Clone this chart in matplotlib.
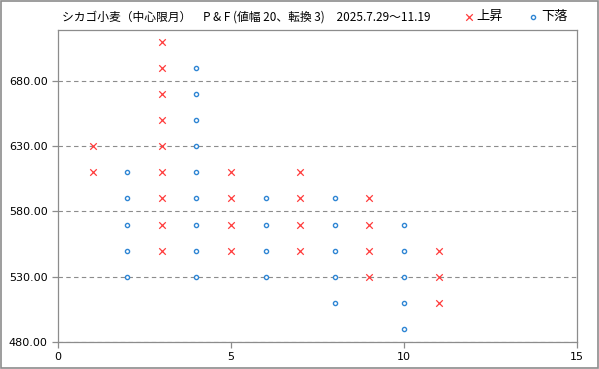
import matplotlib
matplotlib.use("Agg")
import matplotlib.pyplot as plt
from matplotlib.patches import Rectangle
from matplotlib.ticker import FormatStrFormatter

plt.rcParams['font.family'] = ['Noto Sans CJK JP', 'DejaVu Sans']

# rising (X) columns and falling (O) columns
x_cols = [1, 3, 5, 7, 9, 11]
x_prices = [
    [610, 630],
    [550, 570, 590, 610, 630, 650, 670, 690, 710],
    [550, 570, 590, 610],
    [550, 570, 590, 610],
    [530, 550, 570, 590],
    [510, 530, 550],
]
o_cols = [2, 4, 6, 8, 10]
o_prices = [
    [530, 550, 570, 590, 610],
    [530, 550, 570, 590, 610, 630, 650, 670, 690],
    [530, 550, 570, 590],
    [510, 530, 550, 570, 590],
    [490, 510, 530, 550, 570],
]
y_ticks = [480, 530, 580, 630, 680]
x_ticks = [0, 5, 10, 15]
title = "シカゴ小麦（中心限月）　P & F (値幅 20、転換 3)　2025.7.29～11.19"

up_x = [c for c, ps in zip(x_cols, x_prices) for _ in ps]
up_y = [p for ps in x_prices for p in ps]
dn_x = [c for c, ps in zip(o_cols, o_prices) for _ in ps]
dn_y = [p for ps in o_prices for p in ps]

fig = plt.figure(figsize=(5.99, 3.69), dpi=100)
ax = fig.add_axes([0.0968, 0.0732, 0.8665, 0.8455])

ax.scatter(up_x, up_y, marker='x', s=22, color='#ff3b3b', linewidths=0.9,
           label='上昇', zorder=3)
ax.scatter(dn_x, dn_y, marker='o', s=9, facecolors='white',
           edgecolors='#2f86d4', linewidths=1.0, label='下落', zorder=3)

ax.set_xlim(0, 15)
ax.set_ylim(480, 719)
ax.set_xticks(x_ticks)
ax.set_yticks(y_ticks)
ax.yaxis.set_major_formatter(FormatStrFormatter('%.2f'))
ax.grid(axis='y', color='#8c8c8c', linestyle=(0, (4, 3)), linewidth=0.8)
ax.set_axisbelow(True)

for s in ax.spines.values():
    s.set_color('#8c8c8c')
    s.set_linewidth(0.9)
ax.tick_params(colors='#8c8c8c', labelcolor='black', labelsize=8, length=4,
               width=0.9, direction='out')
for lab in ax.get_xticklabels() + ax.get_yticklabels():
    lab.set_family('DejaVu Sans')

fig.text(0.103, 0.955, title, fontsize=8.5, ha='left', va='center')
fig.legend(loc='center right', bbox_to_anchor=(0.947, 0.955), ncol=2,
           frameon=False, fontsize=9.5, handlelength=0.6, handletextpad=0.25,
           columnspacing=2.0, markerscale=1.0, borderaxespad=0, borderpad=0)

fig.patches.append(Rectangle((0.001, 0.002), 0.997, 0.995, transform=fig.transFigure,
                             fill=False, edgecolor='#8c8c8c', linewidth=1.2))

fig.savefig("out.png", dpi=100)
